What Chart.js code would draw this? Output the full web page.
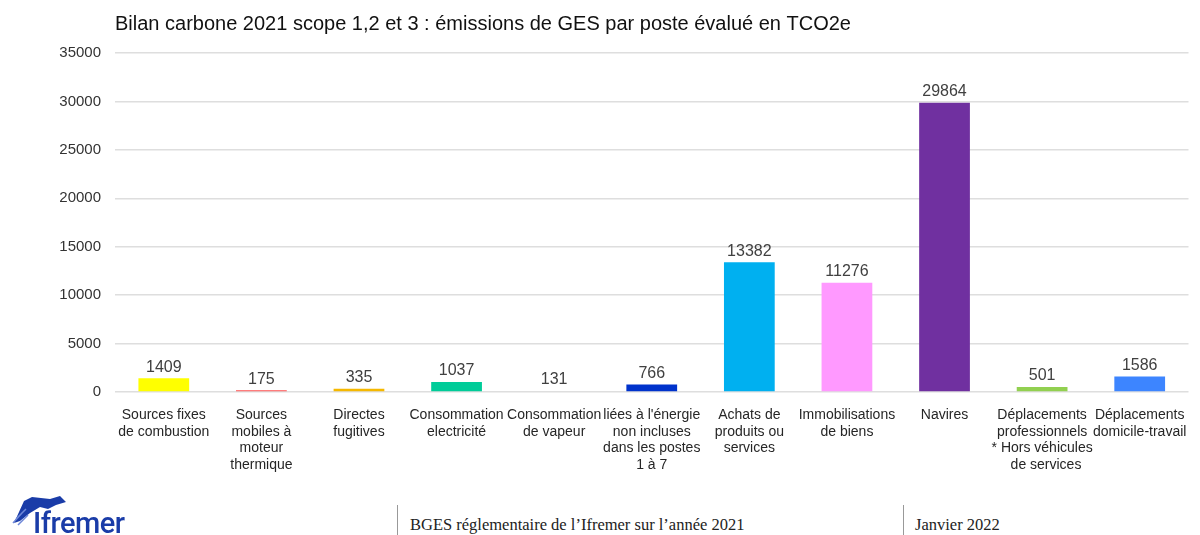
<!DOCTYPE html>
<html>
<head>
<meta charset="utf-8">
<script src="https://cdn.jsdelivr.net/npm/chart.js@4/dist/chart.umd.min.js"></script>
<style>
  html, body { margin: 0; padding: 0; background: #fff; overflow: hidden; }
  #wrap { position: relative; width: 1200px; height: 535px; overflow: hidden; }
  #box { position: absolute; left: 0; top: 0; width: 1202px; height: 494px; }
  .sep { position: absolute; top: 505px; width: 1px; height: 30px; background: #999; }
  .foot { position: absolute; top: 515px; font-family: "Liberation Serif", "DejaVu Serif", serif; font-size: 16.5px; color: #222; }
  #logo { position: absolute; left: 33px; top: 506px; font-family: Roboto, "Open Sans", sans-serif; font-weight: 500; font-size: 29px; color: #1a3ca8; letter-spacing: -0.5px; }
</style>
</head>
<body>
<div id="wrap">
  <div id="box"><canvas id="canvas"></canvas></div>
  <svg style="position:absolute;left:10px;top:493px" width="60" height="35">
    <path d="M14 8 L22 4 L40 6 L50 3 L56 9 L46 12 L38 16 L30 14 L20 20 L10 28 L4 30 Z" fill="#1a3ca8"/>
    <path d="M6 26 L16 16 M3 30 L12 20 M8 32 L18 22" stroke="#6f88d8" stroke-width="1.5"/>
  </svg>
  <div id="logo">Ifremer</div>
  <div class="sep" style="left:397px"></div>
  <div class="foot" style="left:410px">BGES réglementaire de l’Ifremer sur l’année 2021</div>
  <div class="sep" style="left:903px"></div>
  <div class="foot" style="left:915px">Janvier 2022</div>
</div>
<script>
var categories = [
    ["Sources fixes", "de combustion"],
    ["Sources", "mobiles à", "moteur", "thermique"],
    ["Directes", "fugitives"],
    ["Consommation", "electricité"],
    ["Consommation", "de vapeur"],
    ["liées à l'énergie", "non incluses", "dans les postes", "1 à 7"],
    ["Achats de", "produits ou", "services"],
    ["Immobilisations", "de biens"],
    ["Navires"],
    ["Déplacements", "professionnels", "* Hors véhicules", "  de services"],
    ["Déplacements", "domicile-travail"]
];
var emissions = [1409, 175, 335, 1037, 131, 766, 13382, 11276, 29864, 501, 1586];
var barColors = ["#ffff00", "#ff5050", "#f5b800", "#00cc99", "rgba(255,255,255,0)", "#0033cc",
                 "#00b0f0", "#ff99ff", "#7030a0", "#92d050", "#3d85ff"];
var yTicks = [0, 5000, 10000, 15000, 20000, 25000, 30000, 35000];

// valeurs au-dessus des barres
var valueLabels = {
    id: 'valueLabels',
    afterDatasetsDraw: function(chart) {
        var ctx = chart.ctx;
        var meta = chart.getDatasetMeta(0);
        ctx.save();
        ctx.font = '16px "Liberation Sans", Arial, sans-serif';
        ctx.fillStyle = '#404040';
        ctx.textAlign = 'center';
        ctx.textBaseline = 'middle';
        meta.data.forEach(function(bar, i) {
            ctx.fillText(emissions[i], bar.x, bar.y - 11);
        });
        ctx.restore();
    }
};

var ctx = document.getElementById("canvas").getContext("2d");
window.myBar = new Chart(ctx, {
    type: 'bar',
    data: {
        labels: categories,
        datasets: [{
            data: emissions,
            backgroundColor: barColors,
            borderWidth: 0,
            categoryPercentage: 1,
            barPercentage: 0.52
        }]
    },
    options: {
        responsive: true,
        maintainAspectRatio: false,
        animation: false,
        layout: { padding: { top: 12, left: 0, right: 0, bottom: 6 } },
        plugins: {
            legend: { display: false },
            tooltip: { enabled: false },
            title: {
                display: true,
                fullSize: false,
                align: 'start',
                text: 'Bilan carbone 2021 scope 1,2 et 3 : émissions de GES par poste évalué en TCO2e',
                color: '#111',
                font: { family: '"Liberation Sans", Arial, sans-serif', size: 20, weight: 'normal', lineHeight: 1.2 },
                padding: { top: 0, bottom: 17 }
            }
        },
        scales: {
            x: {
                grid: { display: false, drawTicks: false },
                border: { display: false },
                ticks: {
                    autoSkip: false,
                    maxRotation: 0,
                    minRotation: 0,
                    padding: 15,
                    color: '#262626',
                    font: { family: '"Liberation Sans", Arial, sans-serif', size: 14, lineHeight: 1.18 }
                }
            },
            y: {
                min: 0,
                max: 35000,
                afterFit: function(scale) { scale.width = 115; },
                afterBuildTicks: function(scale) {
                    scale.ticks = yTicks.map(function(v) { return { value: v }; });
                },
                grid: { color: '#dedede', lineWidth: 1.5, drawTicks: false },
                border: { display: false },
                ticks: {
                    padding: 14,
                    color: '#333',
                    font: { family: '"Liberation Sans", Arial, sans-serif', size: 15 },
                    callback: function(v) { return String(v); }
                }
            }
        }
    },
    plugins: [valueLabels]
});
</script>
</body>
</html>
